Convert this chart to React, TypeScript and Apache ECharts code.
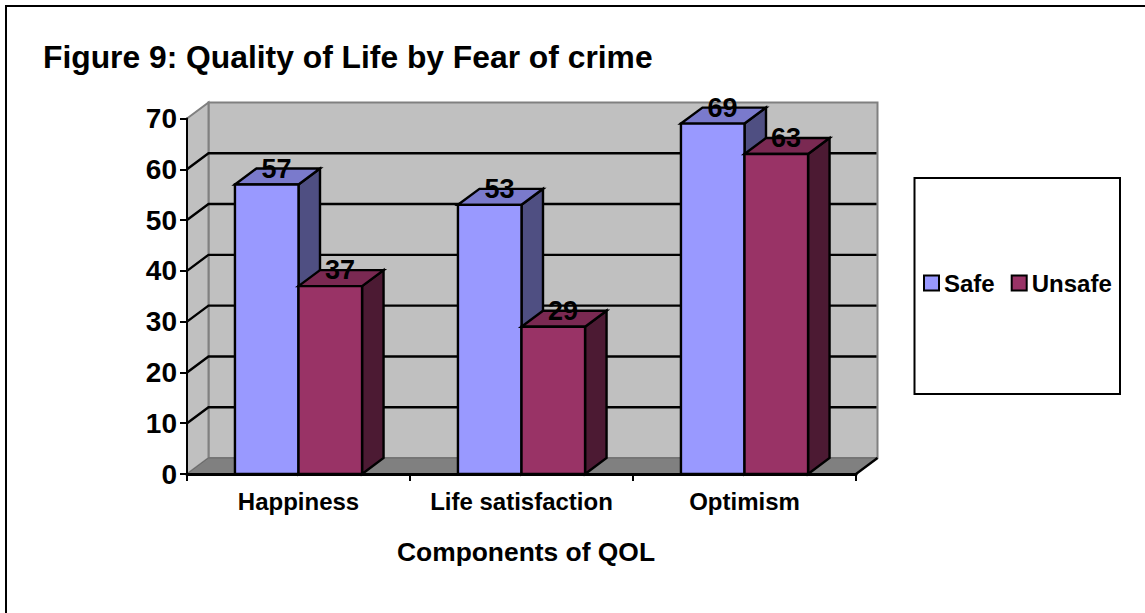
import React, { useEffect, useRef } from "react";
import * as echarts from "echarts";

const categories = ["Happiness", "Life satisfaction", "Optimism"];
const safeValues = [57, 53, 69];
const unsafeValues = [37, 29, 63];
const yTicks = [0, 10, 20, 30, 40, 50, 60, 70];
const seriesNames = ["Safe", "Unsafe"];
const titleText = "Figure 9: Quality of Life by Fear of crime";
const xAxisTitle = "Components of QOL";

const FONT = '"Liberation Sans", Arial, sans-serif';
const DX = 21.5;
const DY = -16;
const BAR_FRACTION = 0.285;
const WALL = "#c0c0c0";
const WALL_EDGE = "#808080";
const FLOOR = "#808080";

const palette = [
  { front: "#9999ff", top: "#7a7acc", side: "#4f4f82" },
  { front: "#993366", top: "#7a2952", side: "#4c1a33" },
];

function renderWalls(_params: any, api: any) {
  const size = api.size([1, 0])[0];
  const [x0, y0] = api.coord([0, 0]);
  const x1 = x0 - size / 2;
  const x2 = x1 + size * categories.length;
  const yTop = api.coord([0, 70])[1];
  const children: any[] = [
    {
      type: "polygon",
      shape: { points: [[x1 + DX, yTop + DY], [x2 + DX, yTop + DY], [x2 + DX, y0 + DY], [x1 + DX, y0 + DY]] },
      style: { fill: WALL, stroke: WALL_EDGE, lineWidth: 2 },
    },
    {
      type: "polygon",
      shape: { points: [[x1, yTop], [x1 + DX, yTop + DY], [x1 + DX, y0 + DY], [x1, y0]] },
      style: { fill: WALL, stroke: WALL_EDGE, lineWidth: 2 },
    },
  ];
  yTicks.slice(1, -1).forEach((t) => {
    const y = api.coord([0, t])[1];
    children.push({
      type: "polyline",
      shape: { points: [[x1, y], [x1 + DX, y + DY], [x2 + DX - 1, y + DY]] },
      style: { fill: "none", stroke: "#000", lineWidth: 2.4 },
    });
  });
  children.push({
    type: "polygon",
    shape: { points: [[x1, y0], [x1 + DX, y0 + DY], [x2 + DX, y0 + DY], [x2, y0]] },
    style: { fill: FLOOR, stroke: "#6a6a6a", lineWidth: 1 },
  });
  children.push({
    type: "line",
    shape: { x1: x2, y1: y0, x2: x2 + DX, y2: y0 + DY },
    style: { stroke: "#000", lineWidth: 2.4 },
  });
  return { type: "group", children };
}

function makeBar(seriesIndex: number) {
  return (_params: any, api: any) => {
    const cat = api.value(0);
    const val = api.value(1);
    const band = api.size([1, 0])[0];
    const w = band * BAR_FRACTION;
    const [cx, yBase] = api.coord([cat, 0]);
    const yVal = api.coord([cat, val])[1];
    const l = cx + (seriesIndex === 0 ? -w : 0);
    const r = l + w;
    const c = palette[seriesIndex];
    const edge = { stroke: "#000", lineWidth: 2.4, lineJoin: "miter" };
    return {
      type: "group",
      children: [
        {
          type: "polygon",
          shape: { points: [[r, yVal], [r + DX, yVal + DY], [r + DX, yBase + DY], [r, yBase]] },
          style: { fill: c.side, ...edge },
        },
        {
          type: "polygon",
          shape: { points: [[l, yVal], [l + DX, yVal + DY], [r + DX, yVal + DY], [r, yVal]] },
          style: { fill: c.top, ...edge },
        },
        {
          type: "rect",
          shape: { x: l, y: yVal, width: w, height: yBase - yVal },
          style: { fill: c.front, ...edge },
        },
        {
          type: "text",
          z2: 50,
          style: {
            x: (l + r) / 2 + DX / 2 - 1,
            y: yVal + DY,
            text: String(val),
            fill: "#000",
            font: `bold 27px ${FONT}`,
            align: "center",
            verticalAlign: "middle",
          },
        },
      ],
    };
  };
}

export default function App() {
  const ref = useRef<HTMLDivElement>(null);
  useEffect(() => {
    document.body.style.margin = "0";
    const chart = echarts.init(ref.current!, null, { renderer: "svg" });
    const barSeries = (i: number, values: number[]) => ({
      type: "custom",
      name: seriesNames[i],
      z: 3 + i,
      itemStyle: { color: palette[i].front, borderColor: "#000", borderWidth: 2.4 },
      data: values.map((v, k) => [k, v]),
      encode: { x: 0, y: 1 },
      renderItem: makeBar(i),
    });
    chart.setOption({
      animation: false,
      backgroundColor: "#fff",
      title: {
        text: titleText,
        left: 38,
        top: 36,
        textStyle: { fontFamily: FONT, fontWeight: "bold", fontSize: 31.8, color: "#000" },
      },
      grid: { left: 187, top: 118.5, width: 669, height: 355.5 },
      xAxis: {
        type: "category",
        data: categories,
        z: 6,
        name: xAxisTitle,
        nameLocation: "middle",
        nameGap: 65,
        nameTextStyle: { fontFamily: FONT, fontWeight: "bold", fontSize: 26.4, color: "#000", padding: [0, 0, 0, 9] },
        axisLine: { lineStyle: { color: "#000", width: 3 } },
        axisTick: { show: true, length: 7, lineStyle: { color: "#000", width: 2 } },
        axisLabel: { fontFamily: FONT, fontWeight: "bold", fontSize: 24, color: "#000", margin: 15, interval: 0 },
        splitLine: { show: false },
      },
      yAxis: {
        type: "value",
        min: 0,
        max: 70,
        interval: 10,
        z: 6,
        axisLine: { show: true, lineStyle: { color: "#000", width: 2 } },
        axisTick: { show: true, length: 7, lineStyle: { color: "#000", width: 2 } },
        axisLabel: {
          fontFamily: FONT, fontWeight: "bold", fontSize: 28, color: "#000", margin: 10,
          formatter: (v: number) => (yTicks.includes(v) ? String(v) : ""),
        },
        splitLine: { show: false },
      },
      legend: {
        left: 918,
        top: 266,
        data: seriesNames,
        icon: "rect",
        itemWidth: 15,
        itemHeight: 15,
        itemGap: 16,
        selectedMode: false,
        textStyle: { fontFamily: FONT, fontWeight: "bold", fontSize: 24, color: "#000" },
      },
      graphic: [
        {
          type: "polyline",
          silent: true,
          shape: { points: [[6, 613], [6, 6], [1145, 6]] },
          style: { fill: "none", stroke: "#000", lineWidth: 2 },
        },
        {
          type: "rect",
          silent: true,
          z: -1,
          shape: { x: 914.5, y: 178, width: 205.5, height: 216 },
          style: { fill: "#fff", stroke: "#000", lineWidth: 2 },
        },
      ],
      series: [
        {
          type: "custom",
          name: "walls",
          z: 1,
          silent: true,
          data: [[0, 0]],
          encode: { x: 0, y: 1 },
          renderItem: renderWalls,
        },
        barSeries(0, safeValues),
        barSeries(1, unsafeValues),
      ],
    });
    return () => chart.dispose();
  }, []);
  return <div ref={ref} style={{ position: "absolute", left: 0, top: 0, width: 1145, height: 613 }} />;
}
